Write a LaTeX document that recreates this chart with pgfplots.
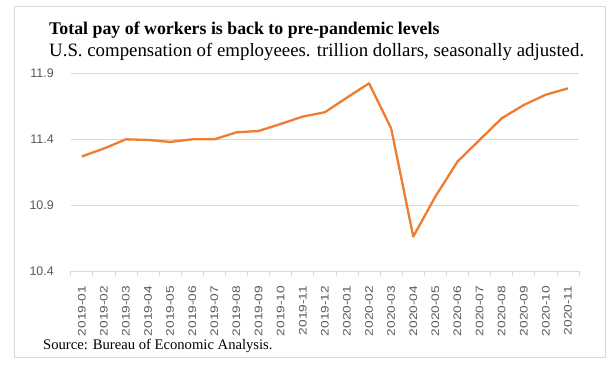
\documentclass[border=0pt]{standalone}
\usepackage{pgfplots}
\pgfplotsset{compat=1.18}
\usepackage{fontspec}
\setmainfont{Liberation Serif}
\newfontfamily\tickfont{Liberation Sans}
\definecolor{orng}{HTML}{ED7D31}
\definecolor{gridc}{HTML}{D9D9D9}
\definecolor{tickc}{HTML}{595959}
\begin{document}
\begin{tikzpicture}
\path[use as bounding box] (0,0) rectangle (613bp,-365bp);
\fill[white] (0,0) rectangle (613bp,-365bp);
\draw[gridc, line width=0.75bp] (14bp,-6bp) rectangle (605bp,-357bp);
\node[anchor=base west, inner sep=0, font=\bfseries\fontsize{17.9}{19}\selectfont] at (49bp,-34bp) {Total pay of workers is back to pre-pandemic levels};
\node[anchor=base west, inner sep=0, font=\fontsize{18.9}{20}\selectfont] at (49bp,-56bp) {U.S. compensation of employeees. trillion dollars, seasonally adjusted.};
\node[anchor=base west, inner sep=0, font=\fontsize{14.7}{16}\selectfont] at (43bp,-349bp) {Source: Bureau of Economic Analysis.};
\begin{axis}[
  at={(70.7bp,-271.3bp)}, anchor=south west,
  width=508.3bp, height=198bp, scale only axis,
  xmin=-0.5, xmax=22.5, ymin=10.4, ymax=11.9,
  axis x line*=bottom, axis y line*=left,
  y axis line style={draw=none},
  x axis line style={gridc, line width=0.75bp},
  ytick={10.4,10.9,11.4,11.9},
  yticklabels={10.4,10.9,11.4,11.9},
  ytick style={draw=none},
  ymajorgrids, major grid style={gridc, line width=0.75bp},
  xtick={0,...,22},
  xticklabels={2019-01,2019-02,2019-03,2019-04,2019-05,2019-06,2019-07,2019-08,2019-09,2019-10,2019-11,2019-12,2020-01,2020-02,2020-03,2020-04,2020-05,2020-06,2020-07,2020-08,2020-09,2020-10,2020-11},
  major x tick style={draw=none},
  minor xtick={-0.5,0.5,...,22.5},
  minor x tick style={gridc, line width=0.75bp},
  minor tick length=5bp,
  tick align=outside,
  xticklabel style={rotate=90, anchor=east, inner sep=0pt, xscale=1.25, font=\tickfont\fontsize{11}{11}\selectfont, text=tickc},
  xticklabel shift=10bp,
  yticklabel style={anchor=east, inner sep=0pt, font=\tickfont\fontsize{12.5}{12.5}\selectfont, text=tickc},
  yticklabel shift=12.5bp,
  /pgf/number format/assume math mode=true,
]
\addplot[orng, line width=2.3bp, line join=round] coordinates {
(0,11.27) (1,11.33) (2,11.40) (3,11.395) (4,11.38) (5,11.40) (6,11.40) (7,11.453) (8,11.463) (9,11.516) (10,11.572) (11,11.605) (12,11.716) (13,11.824) (14,11.483) (15,10.663) (16,10.966) (17,11.231) (18,11.395) (19,11.559) (20,11.66) (21,11.738) (22,11.786)
};
\end{axis}
\end{tikzpicture}
\end{document}
